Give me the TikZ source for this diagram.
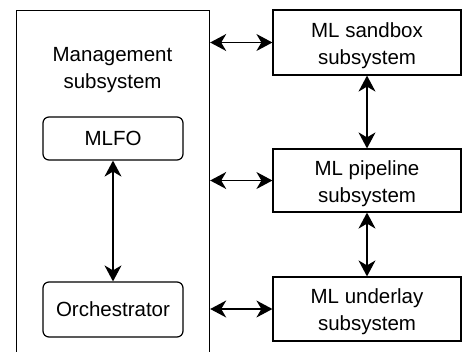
\documentclass[tikz,border=0pt]{standalone}
\usepackage{fontspec}
\setmainfont{Liberation Sans}
\usetikzlibrary{arrows.meta}
\newcommand\myupstrut{\rule{0pt}{21pt}}
\begin{document}
\begin{tikzpicture}[x=1pt,y=-1pt,
  lbl/.style={font=\fontsize{20.5}{27}\selectfont, align=center},
  box/.style={draw, line width=1.2pt, minimum width=188pt, inner sep=0pt, lbl},
  rbox/.style={draw, line width=1.2pt, rounded corners=6pt, minimum width=140pt, inner sep=0pt, lbl},
  biarrow/.style={line width=1.4pt, {Stealth[length=16pt,width=17pt,inset=5pt]}-{Stealth[length=16pt,width=17pt,inset=5pt]}}
]
\clip (0,0) rectangle (462,351);
% management subsystem (extends below the picture)
\node[draw, line width=1.2pt, minimum width=193pt, minimum height=370pt, inner sep=0pt, anchor=north west] (mgmt) at (16,10) {};
\node[lbl, anchor=north] (mgmtlabel) at (112.5,44) {Management\\subsystem};
\node[rbox, minimum height=43pt] (mlfo) at (113,138.5) {MLFO};
\node[rbox, minimum height=55pt] (orch) at (113,309.5) {Orchestrator};
% right column
\node[box, minimum height=65pt] (sandbox) at (367,42.5) {\myupstrut ML sandbox\\subsystem};
\node[box, minimum height=63pt] (pipeline) at (367,180.5) {\myupstrut ML pipeline\\subsystem};
\node[box, minimum height=64pt] (underlay) at (367,309) {\myupstrut ML underlay\\subsystem};
% connectors
\draw[biarrow] (sandbox.west -| mgmt.east) -- (sandbox.west);
\draw[biarrow] (pipeline.west -| mgmt.east) -- (pipeline.west);
\draw[biarrow] (underlay.west -| mgmt.east) -- (underlay.west);
\draw[biarrow] (sandbox.south) -- (pipeline.north);
\draw[biarrow] (pipeline.south) -- (underlay.north);
\draw[biarrow] (mlfo.south) -- (orch.north);
\end{tikzpicture}
\end{document}
